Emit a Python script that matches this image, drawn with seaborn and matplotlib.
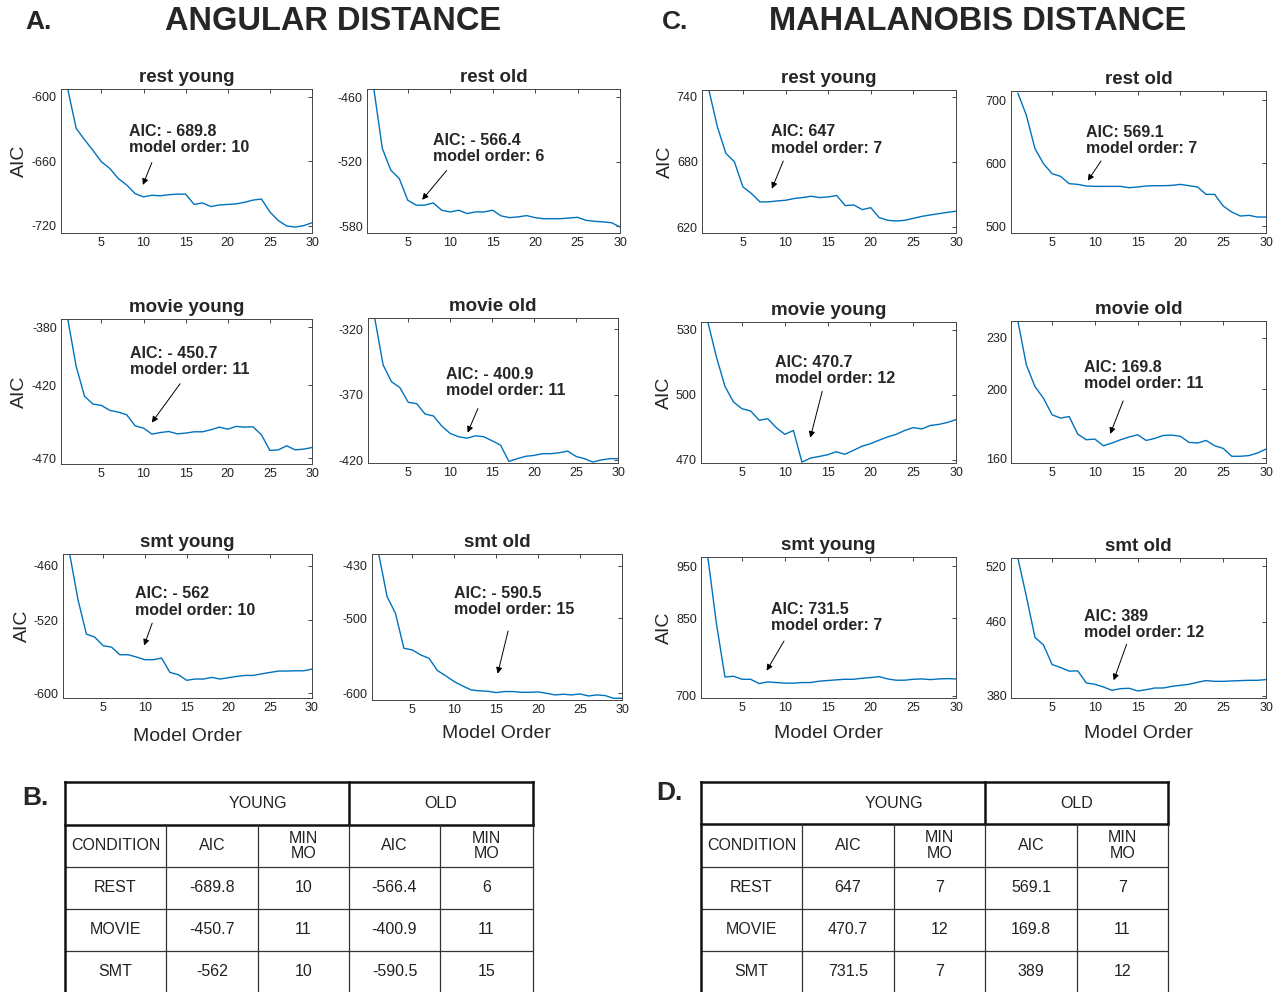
import matplotlib
matplotlib.use("Agg")
import matplotlib.pyplot as plt
import seaborn as sns

orders = list(range(1, 31))

# ---- ANGULAR DISTANCE: AIC by model order ----
ang_rest_young = [-593, -629.5, -640, -650, -660.5, -666.7, -676, -682, -690, -693,
                  -691.5, -692, -691, -690.5, -690.5, -700, -698.6, -702, -700.5, -700,
                  -699.5, -698, -696, -695, -707, -715, -720, -721, -719.7, -717]
ang_rest_old = [-452, -507.7, -528, -535.8, -556, -560.6, -560.6, -558.5, -565.3, -566.9,
                -565.3, -568.4, -566.9, -566.9, -565.3, -570.6, -572.2, -571.5, -570.3, -572.2,
                -573.2, -573.2, -573.2, -572.5, -571.9, -574.7, -575.6, -576.2, -576.9, -580.9]
ang_movie_young = [-374.5, -407, -427.6, -432.9, -433.8, -437.2, -438.4, -440.2, -447.8, -449.4,
                   -453.5, -452.4, -451.7, -453.3, -452.8, -451.9, -451.9, -450.5, -448.7, -450.1,
                   -448.2, -448.7, -448.5, -454, -464.7, -464.3, -461.5, -464.3, -463.8, -462.7]
ang_movie_old = [-311.6, -347.3, -360.1, -364.6, -375.8, -376.8, -384.7, -386.2, -393.9, -399.5,
                 -402.0, -403.1, -401.3, -402.0, -405.1, -408.4, -420.8, -418.7, -416.9, -416.2,
                 -414.9, -414.9, -414.2, -412.9, -417.0, -418.7, -421.3, -419.7, -418.7, -418.7]
ang_smt_young = [-446.8, -497.4, -535.1, -538.4, -547.9, -549.4, -557.8, -557.8, -560.4, -563.3,
                 -563.3, -561.5, -577.3, -579.8, -586.0, -584.6, -584.6, -582.8, -584.6, -583.1,
                 -581.7, -580.6, -580.6, -578.8, -577.3, -575.8, -575.8, -575.5, -575.5, -573.6]
ang_smt_old = [-414, -470.9, -493.2, -539.9, -542.1, -548.8, -553.3, -569.7, -576.8, -584.4,
               -590.2, -595.5, -596.8, -597.3, -599.1, -597.7, -597.7, -598.7, -598.7, -598.2,
               -600.0, -602.2, -601.3, -602.2, -600.9, -603.6, -602.2, -603.1, -606.7, -606.7]

# ---- MAHALANOBIS DISTANCE: AIC by model order ----
mah_rest_young = [746.2, 712.3, 687.7, 680.0, 656.9, 650.8, 643.1, 643.1, 644.0, 644.6,
                  646.2, 647.1, 648.3, 647.1, 647.7, 649.0, 639.7, 640.3, 636.0, 637.8,
                  628.6, 626.2, 625.5, 626.2, 628.0, 629.8, 631.1, 632.3, 633.5, 634.5]
mah_rest_old = [711.7, 676.1, 623.1, 599.2, 583.3, 579.0, 567.4, 566.3, 563.7, 563.1,
                563.1, 563.1, 563.1, 561.0, 562.1, 563.7, 564.2, 564.2, 564.7, 566.3,
                564.2, 562.1, 550.4, 550.4, 531.8, 522.3, 515.9, 517.0, 514.3, 514.3]
mah_movie_young = [533.5, 517.4, 503.8, 496.6, 493.5, 492.5, 488.2, 488.9, 484.8, 481.7,
                   483.5, 468.9, 470.8, 471.5, 472.3, 473.7, 472.5, 474.3, 476.2, 477.4,
                   479.0, 480.5, 481.7, 483.5, 484.8, 484.2, 485.8, 486.3, 487.2, 488.5]
mah_movie_old = [239.6, 214.0, 201.5, 194.7, 185.1, 183.2, 184.1, 173.9, 170.6, 171.0,
                 167.1, 168.7, 170.6, 172.2, 173.5, 170.2, 171.4, 173.1, 173.3, 172.6,
                 169.1, 168.7, 170.2, 167.1, 165.6, 161.0, 161.0, 161.4, 162.9, 165.2]
mah_smt_young = [968, 839.5, 736.6, 737.9, 732.1, 732.1, 723.9, 727.1, 725.8, 724.6,
                 724.6, 725.8, 725.8, 728.4, 729.7, 731.0, 732.1, 732.1, 734.1, 735.3,
                 737.3, 732.8, 730.3, 730.3, 732.1, 732.8, 731.5, 732.8, 733.4, 732.8]
mah_smt_old = [529, 487.4, 443.3, 435.0, 414.0, 410.7, 406.8, 407.1, 394.1, 392.6,
               389.7, 386.1, 387.9, 388.3, 385.4, 386.8, 388.6, 388.6, 390.4, 391.5,
               392.6, 394.8, 396.6, 395.8, 395.8, 396.2, 396.6, 396.9, 396.9, 397.7]

# ---- summary tables ----
conditions = ["REST", "MOVIE", "SMT"]
ang_aic_young = ["-689.8", "-450.7", "-562"]
ang_mo_young = ["10", "11", "10"]
ang_aic_old = ["-566.4", "-400.9", "-590.5"]
ang_mo_old = ["6", "11", "15"]
mah_aic_young = ["647", "470.7", "731.5"]
mah_mo_young = ["7", "12", "7"]
mah_aic_old = ["569.1", "169.8", "389"]
mah_mo_old = ["7", "11", "12"]

sns.set_style("white")
plt.rcParams['font.family'] = ['Liberation Sans', 'DejaVu Sans']
plt.rcParams['axes.unicode_minus'] = False

W, H = 1277, 992
fig = plt.figure(figsize=(W / 100, H / 100), dpi=100)
BLUE = '#0072BD'
GREY = '#262626'


def px_axes(l, t, r, b):
    return fig.add_axes([l / W, 1 - b / H, (r - l) / W, (b - t) / H])


# values, title, yticks, ylim, box(px), text pos, arrow tail, arrow tip, ylabel x, xlabel y
panels = [
    (ang_rest_young, "rest young", [-720, -660, -600], (-726.5, -593), (61, 89, 312, 233),
     "AIC: - 689.8\nmodel order: 10", (0.269, 0.76), (0.366, 0.507), (0.322, 0.316), -0.13, None),
    (ang_rest_old, "rest old", [-580, -520, -460], (-586.5, -452.5), (367, 89, 620, 233),
     "AIC: - 566.4\nmodel order: 6", (0.261, 0.695), (0.322, 0.449), (0.211, 0.216), None, None),
    (ang_movie_young, "movie young", [-470, -420, -380], (-474, -374.5), (61, 319, 312, 464),
     "AIC: - 450.7\nmodel order: 11", (0.275, 0.815), (0.481, 0.569), (0.355, 0.270), -0.13, None),
    (ang_movie_old, "movie old", [-420, -370, -320], (-422, -311.6), (368, 318, 618, 463),
     "AIC: - 400.9\nmodel order: 11", (0.311, 0.665), (0.444, 0.393), (0.394, 0.192), None, None),
    (ang_smt_young, "smt young", [-600, -520, -460], (-605.5, -446.8), (63, 554, 312, 698),
     "AIC: - 562\nmodel order: 10", (0.289, 0.775), (0.362, 0.538), (0.322, 0.346), -0.13, -0.21),
    (ang_smt_old, "smt old", [-600, -500, -430], (-609, -414), (372, 554, 622, 700),
     "AIC: - 590.5\nmodel order: 15", (0.327, 0.78), (0.547, 0.491), (0.500, 0.162), None, -0.17),
    (mah_rest_young, "rest young", [620, 680, 740], (614.5, 746), (702, 90, 956, 233),
     "AIC: 647\nmodel order: 7", (0.271, 0.76), (0.324, 0.521), (0.271, 0.292), -0.11, None),
    (mah_rest_old, "rest old", [500, 600, 700], (488.9, 714.9), (1011, 91, 1266, 233),
     "AIC: 569.1\nmodel order: 7", (0.295, 0.762), (0.359, 0.523), (0.295, 0.352), None, None),
    (mah_movie_young, "movie young", [470, 500, 530], (468.5, 533.5), (701, 322, 956, 463),
     "AIC: 470.7\nmodel order: 12", (0.291, 0.768), (0.478, 0.527), (0.426, 0.161), -0.11, None),
    (mah_movie_old, "movie old", [160, 200, 230], (157.1, 239.6), (1011, 321, 1266, 463),
     "AIC: 169.8\nmodel order: 11", (0.285, 0.725), (0.444, 0.456), (0.385, 0.187), None, None),
    (mah_smt_young, "smt young", [700, 850, 950], (696, 968), (701, 557, 956, 698),
     "AIC: 731.5\nmodel order: 7", (0.274, 0.68), (0.331, 0.421), (0.252, 0.177), -0.11, -0.19),
    (mah_smt_old, "smt old", [380, 460, 520], (377.8, 529), (1011, 558, 1266, 698),
     "AIC: 389\nmodel order: 12", (0.285, 0.635), (0.457, 0.402), (0.399, 0.108), None, -0.19),
]

for vals, title, yt, yl, box, note, tpos, tail, tip, ylab_x, xlab_y in panels:
    ax = px_axes(*box)
    sns.lineplot(x=orders, y=vals, ax=ax, color=BLUE, lw=1.0)
    ax.set_xlim(0.2, 30)
    ax.set_ylim(*yl)
    ax.set_xticks([5, 10, 15, 20, 25, 30])
    ax.set_yticks(yt)
    ax.tick_params(direction='in', top=True, right=True, length=3, width=0.6,
                   labelsize=9, pad=3, colors=GREY, labelcolor='#222222')
    for s in ax.spines.values():
        s.set_color('#444444')
        s.set_linewidth(0.7)
    ax.set_title(title, fontsize=13.5, fontweight='bold', pad=5)
    ax.text(tpos[0], tpos[1], note, transform=ax.transAxes, ha='left', va='top',
            fontsize=11.5, fontweight='bold', linespacing=1.1)
    ax.annotate('', xy=tip, xytext=tail, xycoords='axes fraction', textcoords='axes fraction',
                arrowprops=dict(arrowstyle='-|>', color='k', lw=0.7, mutation_scale=9))
    if xlab_y is not None:
        ax.set_xlabel("Model Order", fontsize=14)
        ax.xaxis.set_label_coords(0.5, xlab_y)
    else:
        ax.set_xlabel("")
    if ylab_x is not None:
        ax.set_ylabel("AIC", fontsize=14)
        ax.yaxis.set_label_coords(ylab_x, 0.5)
    else:
        ax.set_ylabel("")

# block headings
fig.text(25 / W, 1 - 22 / H, "A.", fontsize=19, fontweight='bold', va='center')
fig.text(333 / W, 1 - 22 / H, "ANGULAR DISTANCE", fontsize=23.5, fontweight='bold',
         ha='center', va='center')
fig.text(662 / W, 1 - 22 / H, "C.", fontsize=19, fontweight='bold', va='center')
fig.text(978 / W, 1 - 22 / H, "MAHALANOBIS DISTANCE", fontsize=23.5, fontweight='bold',
         ha='center', va='center')
fig.text(22 / W, 1 - 798 / H, "B.", fontsize=19, fontweight='bold', va='center')
fig.text(656 / W, 1 - 793 / H, "D.", fontsize=19, fontweight='bold', va='center')

# tables
tax = fig.add_axes([0, 0, 1, 1])
tax.set_xlim(0, W)
tax.set_ylim(H, 0)
tax.axis('off')


def draw_table(xs, ys, aic_y, mo_y, aic_o, mo_o):
    thick = dict(color='#111111', lw=1.8, solid_capstyle='projecting')
    thin = dict(color='#333333', lw=0.9)
    tax.plot([xs[0], xs[5]], [ys[0], ys[0]], **thick)
    tax.plot([xs[0], xs[5]], [ys[1], ys[1]], **thick)
    for y in ys[2:5]:
        tax.plot([xs[0], xs[5]], [y, y], **thin)
    tax.plot([xs[0], xs[0]], [ys[0], H], **thick)
    tax.plot([xs[5], xs[5]], [ys[0], ys[1]], **thick)
    tax.plot([xs[5], xs[5]], [ys[1], H], **thin)
    tax.plot([xs[3], xs[3]], [ys[0], ys[1]], **thick)
    tax.plot([xs[3], xs[3]], [ys[1], H], **thin)
    for x in (xs[1], xs[2], xs[4]):
        tax.plot([x, x], [ys[1], H], **thin)
    kw = dict(fontsize=11.5, ha='center', va='center', color='#222222')
    ym = (ys[0] + ys[1]) / 2
    tax.text((xs[1] + xs[3]) / 2, ym, "YOUNG", **kw)
    tax.text((xs[3] + xs[5]) / 2, ym, "OLD", **kw)
    hy = (ys[1] + ys[2]) / 2
    tax.text((xs[0] + xs[1]) / 2, hy, "CONDITION", **kw)
    tax.text((xs[1] + xs[2]) / 2, hy, "AIC", **kw)
    tax.text((xs[2] + xs[3]) / 2, hy, "MIN\nMO", linespacing=1.0, **kw)
    tax.text((xs[3] + xs[4]) / 2, hy, "AIC", **kw)
    tax.text((xs[4] + xs[5]) / 2, hy, "MIN\nMO", linespacing=1.0, **kw)
    for i, c in enumerate(conditions):
        ry = (ys[2 + i] + ys[3 + i]) / 2
        for j, v in enumerate([c, aic_y[i], mo_y[i], aic_o[i], mo_o[i]]):
            tax.text((xs[j] + xs[j + 1]) / 2, ry, v, **kw)


draw_table([65, 166, 258, 349, 440, 533], [782, 825, 867, 909, 951, 993],
           ang_aic_young, ang_mo_young, ang_aic_old, ang_mo_old)
draw_table([701, 802, 894, 985, 1077, 1168], [782, 824, 867, 909, 951, 993],
           mah_aic_young, mah_mo_young, mah_aic_old, mah_mo_old)

fig.savefig("out.png", dpi=100)
